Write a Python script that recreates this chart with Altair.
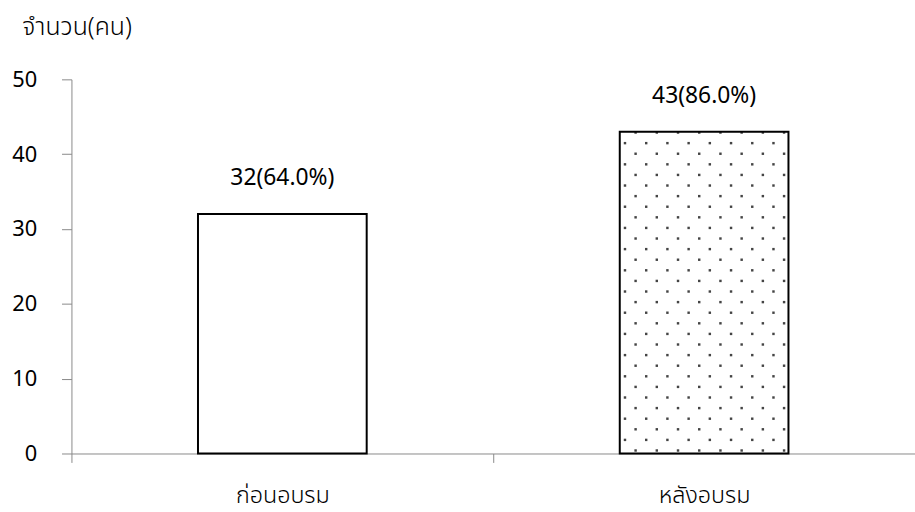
import altair as alt
import pandas as pd

categories = ["ก่อนอบรม", "หลังอบรม"]
counts = [32, 43]
labels = ["32(64.0%)", "43(86.0%)"]
patterned = [False, True]

FONT = "Noto Sans Thai, Leelawadee UI, Tahoma, Noto Sans, sans-serif"

df = pd.DataFrame({"cat": categories, "n": counts, "label": labels, "pat": patterned})

# dot texture for the patterned bar (style only): staggered lattice
N_COLS = 16
rows = []
for cat, n, pat in zip(categories, counts, patterned):
    if not pat:
        continue
    k = 0
    yv = 0.4
    while yv <= n - 0.05:
        for j in range(N_COLS):
            if (j % 2 == 1) == (k % 2 == 0):
                rows.append({"cat": cat, "y": yv, "col": j})
        k += 1
        yv += 1.4164
dots = pd.DataFrame(rows)

xscale = alt.Scale(domain=categories, paddingInner=0.6, paddingOuter=0.3)
yscale = alt.Scale(domain=[0, 50])

xenc = alt.X("cat:N", scale=xscale, sort=categories,
             axis=alt.Axis(title=None, labelAngle=0, domainColor="#898989",
                           tickColor="#898989", tickSize=9, tickOffset=-212.5, labelOffset=212.5,
                           labelFontSize=23.5, labelColor="#000000", labelFontWeight=300,
                           labelFont=FONT, labelPadding=21))
yenc = alt.Y("n:Q", scale=yscale,
             axis=alt.Axis(values=[0, 10, 20, 30, 40, 50], grid=False, domainColor="#898989",
                           tickColor="#898989", tickSize=10, labelFontSize=22, labelColor="#000000",
                           labelFont=FONT, labelPadding=25,
                           title="จำนวน(คน)", titleAngle=0, titleAlign="left", titleBaseline="middle",
                           titleX=-50, titleY=-53, titleFontSize=25, titleFontWeight=300,
                           titleFont=FONT, titleColor="#000000"))

base = alt.Chart(df)
layers = [base.mark_bar(fill="white", stroke=None).encode(x=xenc, y=yenc)]
for j in range(N_COLS):
    bp = (5.3 + 10.75 * j) / 171.0
    layers.append(
        alt.Chart(dots).transform_filter(alt.datum.col == j)
        .mark_square(size=6, color="#444444", opacity=1)
        .encode(x=alt.X("cat:N", scale=xscale, sort=categories, bandPosition=bp),
                y=alt.Y("y:Q", scale=yscale))
    )
layers.append(base.mark_bar(fill=None, stroke="black", strokeWidth=2, fillOpacity=0).encode(
    x=alt.X("cat:N", scale=xscale, sort=categories), y=alt.Y("n:Q", scale=yscale)))
layers.append(base.mark_text(fontSize=23, font=FONT, color="#000000", dy=-29, baseline="alphabetic").encode(
    x=alt.X("cat:N", scale=xscale, sort=categories), y=alt.Y("n:Q", scale=yscale), text="label:N"))

chart = alt.layer(*layers).properties(
    width=850, height=377,
    autosize=alt.AutoSizeParams(type="none"),
    padding={"left": 72, "top": 78, "right": 0, "bottom": 57},
    background="white",
).configure_view(stroke=None)

chart.save("out.html", embed_options={"renderer": "svg", "actions": False})
